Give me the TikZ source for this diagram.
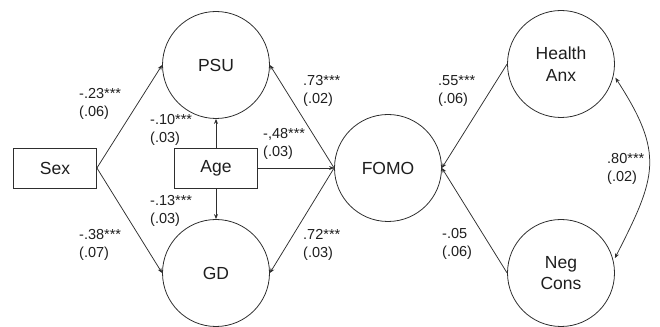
\documentclass[tikz,border=0pt]{standalone}
\usepackage{fontspec}
\setmainfont{Liberation Sans}
\usetikzlibrary{arrows.meta}
\definecolor{ink}{HTML}{1E1E1E}
\definecolor{wire}{HTML}{2E2E2E}
\begin{document}
\begin{tikzpicture}[x=1pt,y=1pt,
  latent/.style={circle,draw=wire,line width=0.8pt,minimum size=107pt,inner sep=0pt,
    text=ink,align=center,font=\fontsize{17.5}{21.5}\selectfont},
  observed/.style={rectangle,draw=wire,line width=0.8pt,minimum width=83pt,minimum height=40pt,
    inner sep=0pt,text=ink,font=\fontsize{17.5}{21}\selectfont},
  coef/.style={anchor=west,align=left,inner sep=0pt,text=ink,font=\fontsize{14.5}{18}\selectfont},
  path/.style={draw=wire,line width=0.75pt,-{Stealth[length=5pt,width=4pt]}},
  covar/.style={draw=wire,line width=0.75pt,{Stealth[length=5pt,width=4pt]}-{Stealth[length=5pt,width=4pt]}}
]
\useasboundingbox (0,0) rectangle (660,326);

% latent variables
\node[latent] (psu)  at (216,261) {PSU};
\node[latent] (gd)   at (216,53)  {GD};
\node[latent] (fomo) at (388,158) {FOMO};
\node[latent] (ha)   at (561,262) {Health\\Anx};
\node[latent] (nc)   at (561,53)  {Neg\\Cons};

% observed covariates
\node[observed] (sex) at (55,158)  {Sex};
\node[observed] (age) at (216,158) {Age};

% structural paths
\draw[path] (sex.east) -- (psu.west);
\draw[path] (sex.east) -- (gd.west);
\draw[path] (age.north) -- (psu.south);
\draw[path] (age.south) -- (gd.north);
\draw[path] (age.east) -- (fomo.west);
\draw[path] (fomo.west) -- (psu.east);
\draw[path] (fomo.west) -- (gd.east);
\draw[path] (ha.west) -- (fomo.east);
\draw[path] (nc.west) -- (fomo.east);

% covariance between Health Anx and Neg Cons
\draw[covar,shorten <=3pt,shorten >=3pt] (ha.-12) to[out=-57,in=63,looseness=1.3] (nc.13);

% path coefficients (standard errors)
\node[coef] (c1)  at (79,222)   {-.23***\\(.06)};
\node[coef] (c2)  at (150,196)  {-.10***\\(.03)};
\node[coef] (c3)  at (263,182)  {-,48***\\(.03)};
\node[coef] (c4)  at (303,235)  {.73***\\(.02)};
\node[coef] (c5)  at (150,115)  {-.13***\\(.03)};
\node[coef] (c6)  at (79,81.5)  {-.38***\\(.07)};
\node[coef] (c7)  at (303,81.5) {.72***\\(.03)};
\node[coef] (c8)  at (438,235)  {.55***\\(.06)};
\node[coef] (c9)  at (607,157.5){.80***\\(.02)};
\node[coef] (c10) at (442,82)   {-.05\\(.06)};
\end{tikzpicture}
\end{document}
